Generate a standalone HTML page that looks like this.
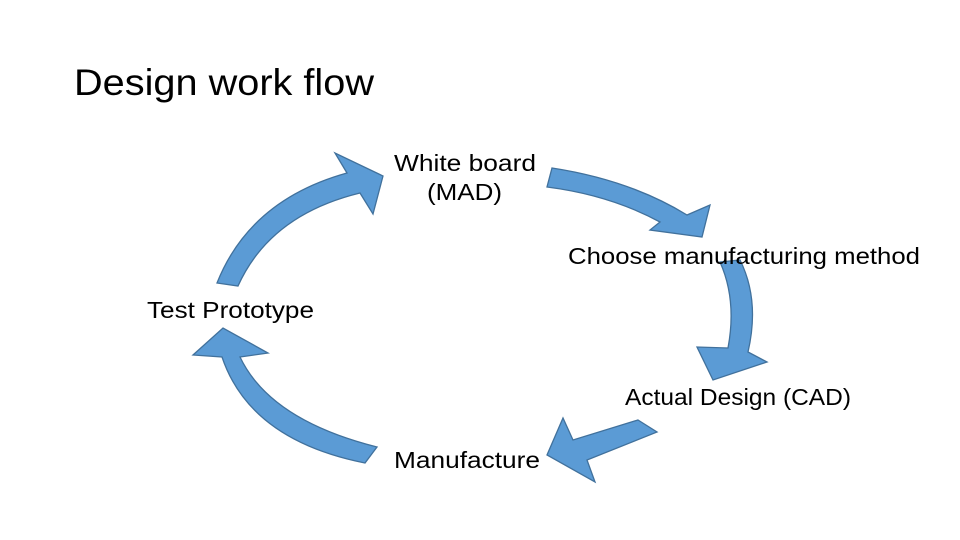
<!DOCTYPE html>
<html><head><meta charset="utf-8"><style>
html,body{margin:0;padding:0;background:#fff;}
svg{display:block;}
text{font-family:"Liberation Sans",sans-serif;fill:#000;}
</style></head><body>
<svg width="960" height="540" viewBox="0 0 960 540" xmlns="http://www.w3.org/2000/svg">
<rect width="960" height="540" fill="#fff"/>
<text x="74" y="95" font-size="37" textLength="300" lengthAdjust="spacingAndGlyphs" fill="#111">Design work flow</text>
<g fill="#5b9bd5" stroke="#41719c" stroke-width="1.3" stroke-linejoin="miter">
<path d="M217,283 Q250,200 347,173 L335,153 L383,176 L373,214 L360,193 Q270,215 238,286 Z"/>
<path d="M552,168 Q630,180 687,215 L710,205 L702,237 L650,230 L660,222 Q610,195 547,187 Z"/>
<path d="M720,262 L740,260 Q760,300 748,352 L767,362 L713,380 L697,347 L728,348 Q737,300 720,262 Z"/>
<path d="M638,420 L657,432 L587,460 L595,482 L547,455 L563,418 L573,440 Z"/>
<path d="M377,447 Q270,420 240,357 L268,353 L223,328 L193,355 L222,357 Q250,440 365,463 Z"/>
</g>
<g font-size="23">
<text x="394" y="171" textLength="142" lengthAdjust="spacingAndGlyphs">White board</text>
<text x="427" y="200" textLength="75" lengthAdjust="spacingAndGlyphs">(MAD)</text>
<text x="568" y="264" textLength="352" lengthAdjust="spacingAndGlyphs">Choose manufacturing method</text>
<text x="147" y="318" textLength="167" lengthAdjust="spacingAndGlyphs">Test Prototype</text>
<text x="625" y="405" textLength="226" lengthAdjust="spacingAndGlyphs">Actual Design (CAD)</text>
<text x="394" y="468" textLength="146" lengthAdjust="spacingAndGlyphs">Manufacture</text>
</g>
</svg>
</body></html>
